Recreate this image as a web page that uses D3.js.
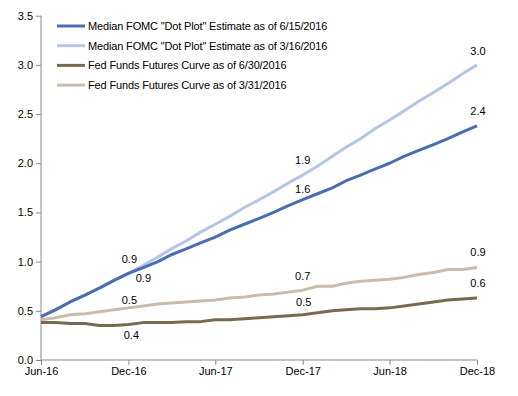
<!DOCTYPE html>
<html>
<head>
<meta charset="utf-8">
<script src="https://cdn.jsdelivr.net/npm/d3@7"></script>
<style>
  body { margin: 0; background: #fff; }
  svg text { font-family: "Liberation Sans", Arial, sans-serif; font-size: 11px; fill: #000; }
</style>
</head>
<body>
<svg width="518" height="396"></svg>
<script>
// monthly, Jun-16 .. Dec-18
var months = d3.range(31).map(function (i) { return new Date(2016, 5 + i, 1); });
var tickLabels = ['Jun-16', 'Dec-16', 'Jun-17', 'Dec-17', 'Jun-18', 'Dec-18'];
var yTicks = [0, 0.5, 1.0, 1.5, 2.0, 2.5, 3.0, 3.5];

var dotPlotJun = [0.44, 0.51, 0.59, 0.66, 0.73, 0.81, 0.88, 0.94, 1.00, 1.07, 1.13, 1.19, 1.25, 1.32, 1.38, 1.44,
    1.50, 1.57, 1.63, 1.69, 1.75, 1.82, 1.88, 1.94, 2.00, 2.07, 2.13, 2.19, 2.25, 2.32, 2.38];
var dotPlotMar = [0.44, 0.51, 0.59, 0.66, 0.73, 0.81, 0.88, 0.96, 1.05, 1.13, 1.21, 1.30, 1.38, 1.46, 1.55, 1.63,
    1.71, 1.80, 1.88, 1.97, 2.07, 2.16, 2.25, 2.35, 2.44, 2.53, 2.63, 2.72, 2.81, 2.91, 3.00];
var futuresJun = [0.38, 0.38, 0.37, 0.37, 0.35, 0.35, 0.36, 0.38, 0.38, 0.38, 0.39, 0.39, 0.41, 0.41, 0.42, 0.43,
    0.44, 0.45, 0.46, 0.48, 0.50, 0.51, 0.52, 0.52, 0.53, 0.55, 0.57, 0.59, 0.61, 0.62, 0.63];
var futuresMar = [0.41, 0.43, 0.46, 0.47, 0.49, 0.51, 0.53, 0.55, 0.57, 0.58, 0.59, 0.60, 0.61, 0.63, 0.64, 0.66,
    0.67, 0.69, 0.71, 0.75, 0.75, 0.78, 0.80, 0.81, 0.82, 0.84, 0.87, 0.89, 0.92, 0.92, 0.94];

var seriesNames = [
    'Median FOMC "Dot Plot" Estimate as of 6/15/2016',
    'Median FOMC "Dot Plot" Estimate as of 3/16/2016',
    'Fed Funds Futures Curve as of 6/30/2016',
    'Fed Funds Futures Curve as of 3/31/2016'
];
var seriesValues = [dotPlotJun, dotPlotMar, futuresJun, futuresMar];
var seriesColors = ['#4a6db0', '#b4c6e6', '#7a6951', '#c9bcab'];

// data labels at Dec-16, Dec-17, Dec-18 : [series, month index, text, dx, dy]
var dataLabels = [
    [1, 6, '0.9', 1, -14], [0, 6, '0.9', 15, 5], [3, 6, '0.5', 1, -8], [2, 6, '0.4', 3, 10],
    [1, 18, '1.9', 0, -15], [0, 18, '1.6', 0, -11], [3, 18, '0.7', 0, -14], [2, 18, '0.5', 1, -13],
    [1, 30, '3.0', 1, -14], [0, 30, '2.4', 1, -15], [3, 30, '0.9', 1, -16], [2, 30, '0.6', 1, -15]
];

var svg = d3.select('svg');
var x = d3.scaleTime().domain([months[0], months[30]]).range([41, 477]);
var y = d3.scaleLinear().domain([0, 3.5]).range([360, 15.7]);

var axisColor = '#898989';

var yAxis = svg.append('g')
    .attr('transform', 'translate(41,0)')
    .call(d3.axisLeft(y).tickValues(yTicks).tickFormat(d3.format('.1f')).tickSize(5).tickPadding(3));
var xAxis = svg.append('g')
    .attr('transform', 'translate(0,360)')
    .call(d3.axisBottom(x)
        .tickValues(months.filter(function (d, i) { return i % 6 === 0; }))
        .tickFormat(function (d, i) { return tickLabels[i]; })
        .tickSize(5).tickPadding(2));

[yAxis, xAxis].forEach(function (g) {
    g.selectAll('path, line').attr('stroke', axisColor);
    g.select('.domain').attr('stroke-width', 1);
    g.selectAll('text').attr('fill', '#000').style('font-size', '11px')
        .style('font-family', '"Liberation Sans", Arial, sans-serif');
});
xAxis.selectAll('.domain').attr('d', 'M41,0H477');
yAxis.selectAll('.domain').attr('d', 'M0,' + y(3.5) + 'V' + y(0));

var line = d3.line()
    .x(function (d, i) { return x(months[i]); })
    .y(function (d) { return y(d); });

// draw back to front so the June dot plot sits on top
[3, 2, 1, 0].forEach(function (s) {
    svg.append('path')
        .datum(seriesValues[s])
        .attr('fill', 'none')
        .attr('stroke', seriesColors[s])
        .attr('stroke-width', 3)
        .attr('stroke-linejoin', 'round')
        .attr('d', line);
});

svg.selectAll('.data-label')
    .data(dataLabels)
    .enter().append('text')
    .attr('class', 'data-label')
    .attr('text-anchor', 'middle')
    .attr('dominant-baseline', 'central')
    .attr('x', function (d) { return x(months[d[1]]) + d[3]; })
    .attr('y', function (d) { return y(seriesValues[d[0]][d[1]]) + d[4]; })
    .text(function (d) { return d[2]; });

var legend = svg.append('g').attr('transform', 'translate(57,26)');
var rows = legend.selectAll('g')
    .data(seriesNames)
    .enter().append('g')
    .attr('transform', function (d, i) { return 'translate(0,' + (i * 19.7) + ')'; });
rows.append('line')
    .attr('x1', 0).attr('x2', 28)
    .attr('stroke', function (d, i) { return seriesColors[i]; })
    .attr('stroke-width', 3);
rows.append('text')
    .attr('x', 31)
    .attr('dominant-baseline', 'central')
    .style('letter-spacing', '-0.15px')
    .text(function (d) { return d; });
</script>
</body>
</html>
